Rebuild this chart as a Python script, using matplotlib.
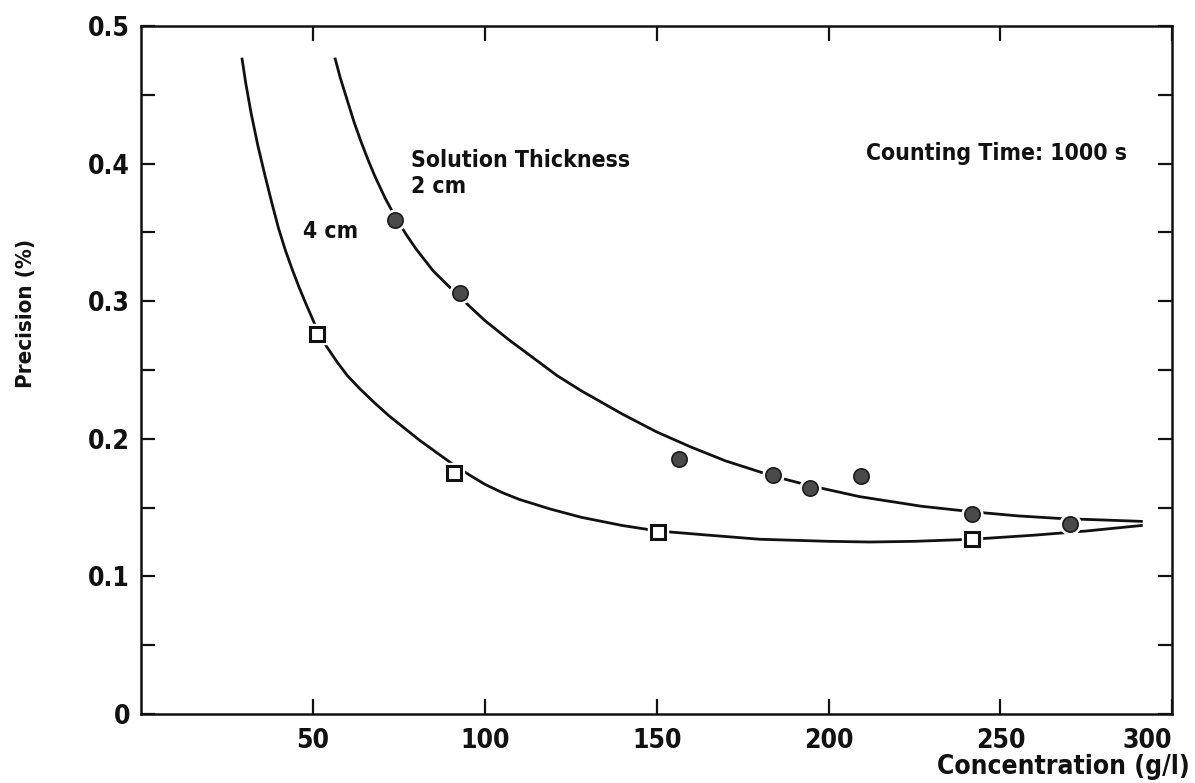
import matplotlib
matplotlib.use('Agg')
import matplotlib.pyplot as plt
from matplotlib import font_manager

conc_2cm = [73.8, 92.7, 156.6, 183.7, 194.5, 209.3, 241.7, 270.3]
prec_2cm = [0.359, 0.306, 0.185, 0.174, 0.164, 0.173, 0.145, 0.138]

conc_4cm = [51.3, 91.0, 150.4, 241.7]
prec_4cm = [0.276, 0.175, 0.1325, 0.127]

# fitted curves
curve_2cm_x = [56.5, 58, 60, 62, 64, 66, 68, 71, 73.8, 77, 80, 85, 92.7, 100, 107, 114,
               121, 128, 140, 150, 160, 170, 183.7, 194.5, 209, 227, 241.7, 255, 268, 280, 291]
curve_2cm_y = [0.476, 0.462, 0.446, 0.430, 0.416, 0.403, 0.391, 0.375, 0.362, 0.349, 0.338,
               0.322, 0.303, 0.286, 0.272, 0.259, 0.246, 0.235, 0.218, 0.205, 0.194, 0.184,
               0.173, 0.166, 0.158, 0.151, 0.147, 0.144, 0.142, 0.141, 0.140]

curve_4cm_x = [29.4, 30.5, 32, 34, 36, 38, 40, 42, 44, 46, 48, 51.3, 54, 57, 60, 63.8, 68,
               72, 76, 81, 86, 91, 96, 100, 105, 110, 119, 128, 140, 150.4, 165, 180, 200,
               212, 225, 241.7, 260, 275, 291]
curve_4cm_y = [0.476, 0.458, 0.437, 0.413, 0.392, 0.372, 0.353, 0.337, 0.323, 0.310, 0.298,
               0.279, 0.267, 0.256, 0.246, 0.236, 0.226, 0.217, 0.209, 0.199, 0.190, 0.181,
               0.173, 0.167, 0.161, 0.156, 0.149, 0.143, 0.137, 0.133, 0.130, 0.127, 0.1255,
               0.125, 0.1255, 0.127, 0.130, 0.133, 0.137]

x_ticks = [50, 100, 150, 200, 250, 300]
y_ticks = [0, 0.1, 0.2, 0.3, 0.4, 0.5]
y_minor = [0.05, 0.15, 0.25, 0.35, 0.45]

# condensed bold face, if one is installed
names = {f.name for f in font_manager.fontManager.ttflist}
fams = [n for n in ['Liberation Sans Narrow', 'DejaVu Sans'] if n in names]
plt.rcParams['font.family'] = fams + ['DejaVu Sans']
plt.rcParams['font.weight'] = 'bold'
plt.rcParams['font.stretch'] = 'condensed'

fig = plt.figure(figsize=(11.95, 7.83), dpi=100)
ax = fig.add_axes([0.118, 0.0881, 0.863, 0.8787])

ax.plot(curve_2cm_x, curve_2cm_y, color='#111111', lw=2.0, zorder=2)
ax.plot(curve_4cm_x, curve_4cm_y, color='#111111', lw=2.0, zorder=2)

# white halo so the line breaks around the markers
ax.plot(conc_2cm, prec_2cm, 'o', ms=15, mfc='white', mec='white', zorder=3)
ax.plot(conc_2cm, prec_2cm, 'o', ms=11, mfc='#4a4a4a', mec='#1a1a1a', mew=1.2, zorder=4)
ax.plot(conc_4cm, prec_4cm, 's', ms=14, mfc='white', mec='white', zorder=3)
ax.plot(conc_4cm, prec_4cm, 's', ms=9.5, mfc='white', mec='#111111', mew=2.2, zorder=4)

ax.set_xlim(0, 300)
ax.set_ylim(0, 0.5)
ax.set_xticks(x_ticks)
ax.set_xticklabels([str(v) for v in x_ticks])
ax.set_yticks(y_ticks)
ax.set_yticklabels(['0' if v == 0 else f'{v:.1f}' for v in y_ticks])
ax.set_yticks(y_minor, minor=True)

ax.tick_params(axis='both', which='both', direction='in', top=True, right=True,
               width=1.6, labelsize=19, colors='#111111')
ax.tick_params(axis='x', which='major', length=11, pad=10)
ax.tick_params(axis='y', which='both', length=10, pad=8)
ax.get_xticklabels()[-1].set_horizontalalignment('right')
for s in ax.spines.values():
    s.set_linewidth(1.8)
    s.set_color('#111111')

txt = dict(fontsize=16.5, fontweight='bold', color='#111111')
ax.text(78.4, 0.402, 'Solution Thickness', va='center', ha='left', **txt)
ax.text(78.4, 0.383, '2 cm', va='center', ha='left', **txt)
ax.text(47.2, 0.351, '4 cm', va='center', ha='left', **txt)
ax.text(211, 0.407, 'Counting Time: 1000 s', va='center', ha='left', **txt)

fig.text(0.022, 0.60, 'Precision (%)', rotation=90, va='center', ha='center',
         fontsize=16, fontweight='bold', color='#111111')
fig.text(0.996, 0.02, 'Concentration (g/l)', va='center', ha='right',
         fontsize=19, fontweight='bold', color='#111111')

fig.savefig('out.png', dpi=100)
